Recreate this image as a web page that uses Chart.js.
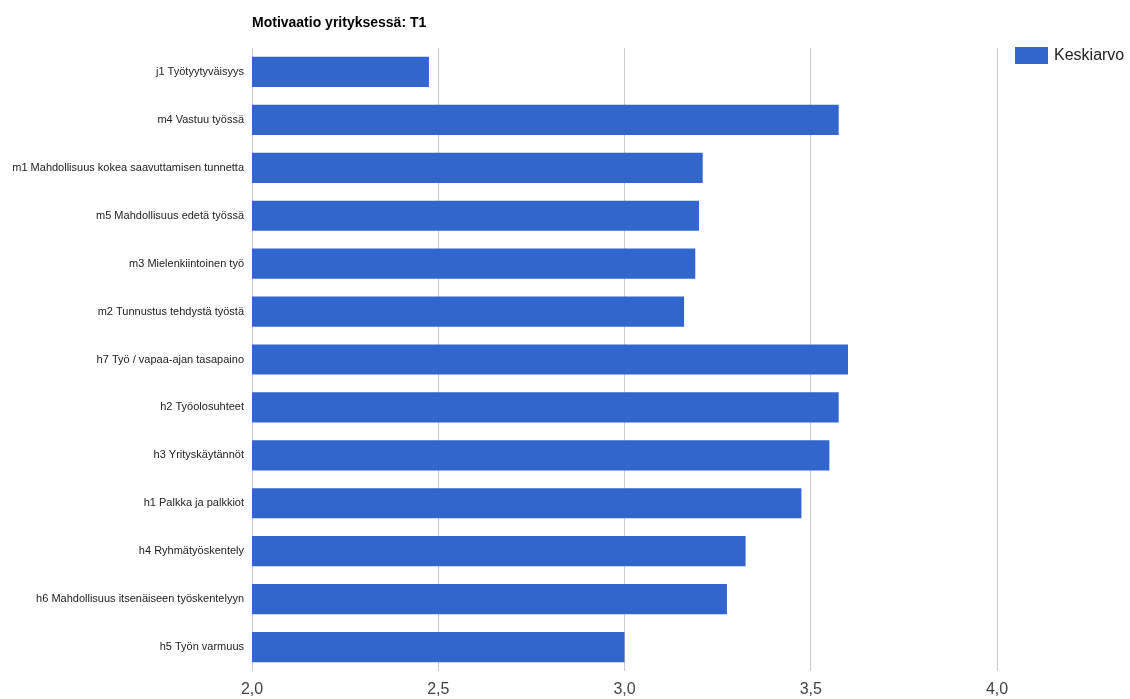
<!DOCTYPE html>
<html>
<head>
<meta charset="utf-8">
<script src="https://cdn.jsdelivr.net/npm/chart.js@4/dist/chart.umd.min.js"></script>
<style>
    html, body { margin: 0; padding: 0; background: #fff; }
    #wrap { width: 1130px; height: 699px; }
</style>
</head>
<body>
<div id="wrap"><canvas id="kaavio" width="1130" height="699"></canvas></div>
<script>
const otsikko = 'Motivaatio yrityksessä: T1';
const sarjanNimi = 'Keskiarvo';
const kategoriat = [
    'j1 Työtyytyväisyys',
    'm4 Vastuu työssä',
    'm1 Mahdollisuus kokea saavuttamisen tunnetta',
    'm5 Mahdollisuus edetä työssä',
    'm3 Mielenkiintoinen työ',
    'm2 Tunnustus tehdystä työstä',
    'h7 Työ / vapaa-ajan tasapaino',
    'h2 Työolosuhteet',
    'h3 Yrityskäytännöt',
    'h1 Palkka ja palkkiot',
    'h4 Ryhmätyöskentely',
    'h6 Mahdollisuus itsenäiseen työskentelyyn',
    'h5 Työn varmuus'
];
const keskiarvot = [2.475, 3.575, 3.21, 3.20, 3.19, 3.16, 3.60, 3.575, 3.55, 3.475, 3.325, 3.275, 3.00];
const akseliMin = 2;
const akseliMax = 4;
const akseliVali = 0.5;

const vari = '#3366cc';

// otsikko ja selite piirretään käsin, jotta ne osuvat oikeisiin kohtiin
const otsikkoJaSelite = {
    id: 'otsikkoJaSelite',
    afterDraw(chart) {
        const ctx = chart.ctx;
        const alue = chart.chartArea;
        ctx.save();
        ctx.fillStyle = '#000';
        ctx.font = 'bold 14px Arial, "Liberation Sans", sans-serif';
        ctx.textBaseline = 'alphabetic';
        ctx.textAlign = 'left';
        ctx.fillText(otsikko, alue.left, 27);

        const ds = chart.data.datasets[0];
        ctx.fillStyle = ds.backgroundColor;
        ctx.fillRect(1015, 47, 33, 17);
        ctx.fillStyle = '#222';
        ctx.font = '16px Arial, "Liberation Sans", sans-serif';
        ctx.textBaseline = 'middle';
        ctx.fillText(ds.label, 1054, 56);
        ctx.restore();
    }
};

const ctx = document.getElementById('kaavio').getContext('2d');
new Chart(ctx, {
    type: 'bar',
    data: {
        labels: kategoriat,
        datasets: [{
            label: sarjanNimi,
            data: keskiarvot,
            backgroundColor: vari,
            borderWidth: 0,
            barPercentage: 0.63,
            categoryPercentage: 1
        }]
    },
    options: {
        indexAxis: 'y',
        responsive: false,
        animation: false,
        layout: {
            padding: { top: 48, right: 133, bottom: 0, left: 0 }
        },
        plugins: {
            legend: { display: false },
            title: { display: false },
            tooltip: { enabled: false }
        },
        scales: {
            x: {
                min: akseliMin,
                max: akseliMax,
                border: { display: false },
                grid: { color: '#cccccc', drawTicks: false, lineWidth: 1 },
                ticks: {
                    stepSize: akseliVali,
                    padding: 9,
                    color: '#444',
                    font: { family: 'Arial, "Liberation Sans", sans-serif', size: 16 },
                    callback: (v) => v.toFixed(1).replace('.', ',')
                },
                afterFit(akseli) { akseli.height = 28; }
            },
            y: {
                border: { display: false },
                grid: { display: false, drawTicks: false },
                ticks: {
                    padding: 8,
                    color: '#222',
                    autoSkip: false,
                    font: { family: 'Arial, "Liberation Sans", sans-serif', size: 11 }
                },
                afterFit(akseli) { akseli.width = 252; }
            }
        }
    },
    plugins: [otsikkoJaSelite]
});
</script>
</body>
</html>
